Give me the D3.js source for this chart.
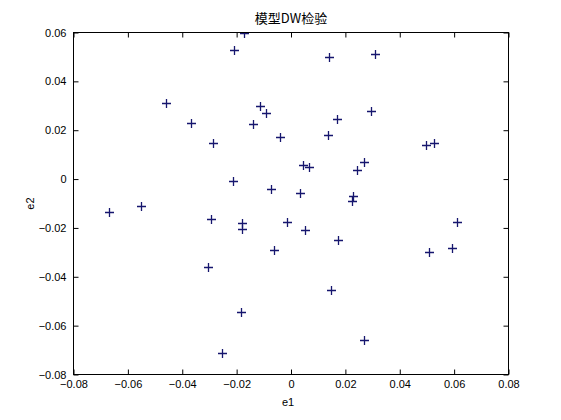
<!DOCTYPE html>
<html><head><meta charset="utf-8">
<script src="https://cdn.jsdelivr.net/npm/d3@7"></script>
<style>body{margin:0;background:#fff;}svg{display:block;}</style>
</head><body>
<svg id="c" width="561" height="420"></svg>
<script>
const e1 = [-0.0172,-0.0211,0.0141,0.031,-0.0459,-0.0366,-0.0114,-0.0093,-0.014,-0.004,0.0135,0.0168,0.0294,-0.0288,0.0497,0.0526,0.0043,0.0068,0.027,0.0241,-0.0215,-0.0074,0.0032,0.0227,0.0223,-0.0668,-0.055,-0.0295,-0.0181,-0.0181,-0.0014,0.0053,0.0172,0.0609,0.0592,0.0506,-0.0064,-0.0304,0.0147,-0.0184,0.027,-0.0255];
const e2 = [0.0598,0.053,0.050,0.051,0.0313,0.023,0.0298,0.0271,0.0225,0.0173,0.018,0.0245,0.0277,0.0146,0.0138,0.0148,0.0057,0.0048,0.0071,0.0036,-0.0008,-0.004,-0.0059,-0.007,-0.0089,-0.0136,-0.0112,-0.0164,-0.0179,-0.0206,-0.0176,-0.0209,-0.025,-0.0176,-0.0282,-0.030,-0.0292,-0.036,-0.0453,-0.0546,-0.066,-0.071];
const xTicks = [-0.08,-0.06,-0.04,-0.02,0,0.02,0.04,0.06,0.08];
const yTicks = [-0.08,-0.06,-0.04,-0.02,0,0.02,0.04,0.06];
const title = "模型DW检验", xLabel = "e1", yLabel = "e2";

const L=73.5, R=508.5, T=32.5, B=374.5;
const svg=d3.select("#c");
const x=d3.scaleLinear().domain([-0.08,0.08]).range([L,R]);
const y=d3.scaleLinear().domain([-0.08,0.06]).range([B,T]);
const fmt=d=> d===0?"0":d3.format(".2f")(d);
const font="'Liberation Sans', Arial, sans-serif";

// markers (clipped)
svg.append("clipPath").attr("id","cp").append("rect").attr("x",L).attr("y",T).attr("width",R-L).attr("height",B-T);
const g=svg.append("g").attr("clip-path","url(#cp)");
const pts=e1.map((v,i)=>[v,e2[i]]);
g.selectAll("path.m").data(pts).join("path").attr("class","m")
 .attr("d",d=>{const px=Math.round(x(d[0]))+0.5, py=Math.round(y(d[1]))+0.5;return `M${px-4.5},${py}H${px+4.5}M${px},${py-4.5}V${py+4.5}`;})
 .attr("stroke","#16166e").attr("stroke-width",1.3).attr("fill","none");

// axes
const ax=(gen,tr)=>svg.append("g").attr("transform",tr).call(gen);
const styleAx=s=>{s.select(".domain").remove();s.selectAll("line").attr("stroke","#000");s.selectAll("text").attr("font-family",font).attr("font-size",11).attr("fill","#000");};
ax(d3.axisBottom(x).tickValues(xTicks).tickFormat(fmt).tickSizeInner(-5).tickSizeOuter(0).tickPadding(6),`translate(0,${B})`).call(styleAx);
ax(d3.axisTop(x).tickValues(xTicks).tickFormat("").tickSizeInner(-5).tickSizeOuter(0),`translate(0,${T})`).call(styleAx);
ax(d3.axisLeft(y).tickValues(yTicks).tickFormat(fmt).tickSizeInner(-5).tickSizeOuter(0).tickPadding(7),`translate(${L},0)`).call(styleAx);
ax(d3.axisRight(y).tickValues(yTicks).tickFormat("").tickSizeInner(-5).tickSizeOuter(0),`translate(${R},0)`).call(styleAx);
svg.append("rect").attr("x",L).attr("y",T).attr("width",R-L).attr("height",B-T).attr("fill","none").attr("stroke","#000").attr("stroke-width",1);

svg.append("text").attr("x",(L+R)/2).attr("y",23).attr("text-anchor","middle")
 .attr("font-family","'Noto Sans CJK SC', sans-serif").attr("font-size",13).text(title);
svg.append("text").attr("x",(L+R)/2-3).attr("y",406).attr("text-anchor","middle")
 .attr("font-family",font).attr("font-size",11).text(xLabel);
svg.append("text").attr("transform",`translate(34,${(T+B)/2}) rotate(-90)`).attr("text-anchor","middle")
 .attr("font-family",font).attr("font-size",11).text(yLabel);
</script>
</body></html>
